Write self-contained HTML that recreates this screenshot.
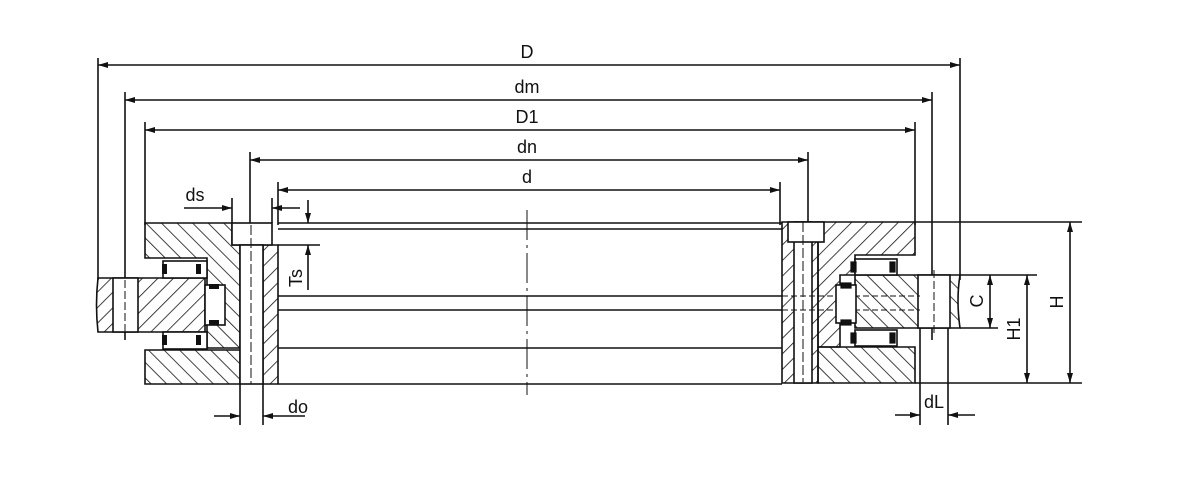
<!DOCTYPE html>
<html><head><meta charset="utf-8"><style>html,body{margin:0;padding:0;background:#fff}svg{display:block}</style></head><body>
<svg width="1200" height="500" viewBox="0 0 1200 500" xmlns="http://www.w3.org/2000/svg" font-family="Liberation Sans, sans-serif">
<defs>
<pattern id="h1" patternUnits="userSpaceOnUse" width="11" height="11" patternTransform="rotate(45)"><line x1="0" y1="0" x2="0" y2="11" stroke="#111" stroke-width="1.6"/></pattern>
<pattern id="h2" patternUnits="userSpaceOnUse" width="11" height="11" patternTransform="rotate(-45)"><line x1="0" y1="0" x2="0" y2="11" stroke="#111" stroke-width="1.6"/></pattern>
<marker id="a" viewBox="0 0 10 6" refX="10" refY="3" markerWidth="11" markerHeight="6" orient="auto-start-reverse" markerUnits="userSpaceOnUse"><path d="M0,0L10,3L0,6z" fill="#111"/></marker>
</defs>
<g stroke="#111" stroke-width="1.6" fill="none">
<line x1="98" y1="65" x2="960" y2="65" marker-start="url(#a)" marker-end="url(#a)"/>
<line x1="125" y1="100" x2="932" y2="100" marker-start="url(#a)" marker-end="url(#a)"/>
<line x1="145" y1="130" x2="915" y2="130" marker-start="url(#a)" marker-end="url(#a)"/>
<line x1="250" y1="160" x2="808" y2="160" marker-start="url(#a)" marker-end="url(#a)"/>
<line x1="278" y1="190" x2="780" y2="190" marker-start="url(#a)" marker-end="url(#a)"/>
<line x1="98" y1="58" x2="98" y2="280"/><line x1="960" y1="58" x2="960" y2="280"/>
<line x1="125" y1="92" x2="125" y2="340"/><line x1="932" y1="92" x2="932" y2="340"/>
<line x1="145" y1="122" x2="145" y2="225"/><line x1="915" y1="122" x2="915" y2="225"/>
<line x1="250" y1="152" x2="250" y2="225"/><line x1="808" y1="152" x2="808" y2="225"/>
<line x1="278" y1="182" x2="278" y2="225"/><line x1="780" y1="182" x2="780" y2="225"/>
<line x1="278" y1="223" x2="782" y2="223"/><line x1="278" y1="229" x2="782" y2="229"/>
<line x1="278" y1="296" x2="782" y2="296"/><line x1="278" y1="310" x2="782" y2="310"/>
<line x1="278" y1="348" x2="782" y2="348"/><line x1="278" y1="384" x2="782" y2="384"/>
<line x1="527" y1="210" x2="527" y2="395" stroke-dasharray="30,5,3,5" stroke-width="1"/>
<path d="M98,278 H205 V332 H98 Q95,305 98,278z" fill="url(#h1)"/>
<path d="M145,223 H232 V245 H240 V348 H207 V258 H145z" fill="url(#h2)"/>
<path d="M145,350 H240 V384 H145z" fill="url(#h2)"/>
<path d="M263,245 H278 V384 H263z" fill="url(#h1)"/>
<rect x="113" y="278" width="25" height="54" fill="#fff"/>
<line x1="125" y1="280" x2="125" y2="332" stroke-dasharray="8,3" stroke-width="1"/>
<rect x="232" y="223" width="40" height="22" fill="#fff"/>
<rect x="240" y="245" width="23" height="139" fill="#fff"/>
<line x1="251" y1="225" x2="251" y2="384" stroke-dasharray="10,3" stroke-width="1"/>
<line x1="232" y1="198" x2="232" y2="223"/><line x1="272" y1="198" x2="272" y2="223"/>
<line x1="240" y1="384" x2="240" y2="425"/><line x1="263" y1="384" x2="263" y2="425"/>
<rect x="163" y="261" width="44" height="17" fill="#fff"/>
<rect x="163" y="332" width="44" height="17" fill="#fff"/>
<rect x="205" y="285" width="20" height="40" fill="#fff"/>
</g>
<g fill="#111">
<rect x="162" y="264" width="5" height="10"/><rect x="196" y="264" width="5" height="10"/>
<rect x="162" y="335" width="5" height="10"/><rect x="196" y="335" width="5" height="10"/>
<rect x="209" y="284" width="10" height="5"/><rect x="209" y="320" width="10" height="5"/>
</g>
<g stroke="#111" stroke-width="1.6" fill="none">
<path d="M782,222 H818 V383 H782z" fill="url(#h1)"/>
<path d="M818,222 H915 V255 H855 V275 H840 V347 H818z" fill="url(#h1)"/>
<path d="M818,347 H915 V383 H818z" fill="url(#h2)"/>
<path d="M855,275 H960 Q956,300 960,328 H855z" fill="url(#h2)"/>
<rect x="918" y="275" width="32" height="53" fill="#fff"/>
<line x1="934" y1="270" x2="934" y2="335" stroke-dasharray="8,3" stroke-width="1"/>
<rect x="794" y="222" width="18" height="161" fill="#fff"/>
<rect x="788" y="222" width="36" height="20" fill="#fff"/>
<line x1="803" y1="222" x2="803" y2="383" stroke-dasharray="10,3" stroke-width="1"/>
<line x1="782" y1="296" x2="920" y2="296" stroke-dasharray="6,3" stroke-width="1"/>
<line x1="782" y1="310" x2="920" y2="310" stroke-dasharray="6,3" stroke-width="1"/>
<rect x="855" y="259" width="42" height="16" fill="#fff"/>
<rect x="855" y="330" width="42" height="16" fill="#fff"/>
<rect x="836" y="285" width="20" height="38" fill="#fff"/>
<line x1="920" y1="328" x2="920" y2="425"/><line x1="948" y1="328" x2="948" y2="425"/>
<line x1="915" y1="222" x2="1082" y2="222"/><line x1="915" y1="383" x2="1082" y2="383"/>
<line x1="960" y1="275" x2="1037" y2="275"/><line x1="960" y1="328" x2="998" y2="328"/>
<line x1="1070" y1="222" x2="1070" y2="383" marker-start="url(#a)" marker-end="url(#a)"/>
<line x1="1027" y1="275" x2="1027" y2="383" marker-start="url(#a)" marker-end="url(#a)"/>
<line x1="990" y1="275" x2="990" y2="328" marker-start="url(#a)" marker-end="url(#a)"/>
<line x1="184" y1="208" x2="232" y2="208" marker-end="url(#a)"/><line x1="272" y1="208" x2="300" y2="208" marker-start="url(#a)"/>
<line x1="214" y1="416" x2="240" y2="416" marker-end="url(#a)"/><line x1="263" y1="416" x2="305" y2="416" marker-start="url(#a)"/>
<line x1="895" y1="415" x2="920" y2="415" marker-end="url(#a)"/><line x1="948" y1="415" x2="975" y2="415" marker-start="url(#a)"/>
<line x1="308" y1="200" x2="308" y2="223" marker-end="url(#a)"/><line x1="308" y1="245" x2="308" y2="290" marker-start="url(#a)"/>
<line x1="278" y1="245" x2="320" y2="245"/>
</g>
<g fill="#111" stroke="#111" stroke-width="1.2">
<rect x="851" y="262" width="5" height="10"/><rect x="890" y="262" width="5" height="10"/>
<rect x="851" y="333" width="5" height="10"/><rect x="890" y="333" width="5" height="10"/>
<rect x="841" y="283" width="10" height="5"/><rect x="841" y="320" width="10" height="5"/>
</g>
<g fill="#111" font-size="18" text-anchor="middle">
<text x="527" y="58">D</text><text x="527" y="93">dm</text><text x="527" y="123">D1</text>
<text x="527" y="153">dn</text><text x="527" y="183">d</text>
<text x="195" y="201">ds</text><text x="298" y="413">do</text><text x="934" y="408">dL</text>
<text transform="translate(302,278) rotate(-90)">Ts</text>
<text transform="translate(983,301) rotate(-90)">C</text>
<text transform="translate(1020,329) rotate(-90)">H1</text>
<text transform="translate(1063,302) rotate(-90)">H</text>
</g>
</svg>
</body></html>
